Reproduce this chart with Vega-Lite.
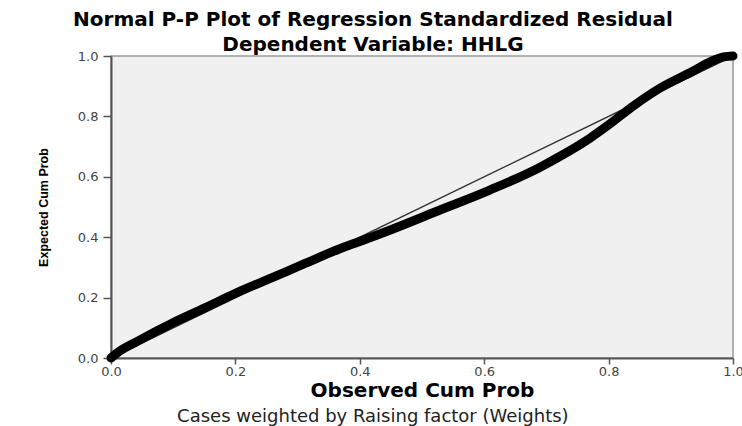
{
  "$schema": "https://vega.github.io/schema/vega-lite/v6.json",
  "width": 622,
  "height": 302,
  "autosize": "none",
  "padding": {"left": 111, "top": 56, "right": 9, "bottom": 68},
  "background": "white",
  "config": {
    "view": {"fill": "#f0f0f0", "stroke": "#9a9a9a", "strokeWidth": 1.5}
  },
  "title": {
    "text": "Normal P-P Plot of Regression Standardized Residual",
    "subtitle": "Dependent Variable: HHLG",
    "font": "DejaVu Sans",
    "fontSize": 20,
    "fontWeight": "bold",
    "color": "black",
    "subtitleFont": "DejaVu Sans",
    "subtitleFontSize": 20,
    "subtitleFontWeight": "bold",
    "subtitleColor": "black",
    "subtitlePadding": 5,
    "anchor": "middle",
    "offset": 4,
    "dx": -49,
    "dy": 21
  },
  "datasets": {
    "curve": [
      {"obs": 0.0, "exp": 0.0},
      {"obs": 0.01, "exp": 0.017},
      {"obs": 0.043, "exp": 0.056},
      {"obs": 0.098, "exp": 0.115},
      {"obs": 0.151, "exp": 0.166},
      {"obs": 0.2, "exp": 0.214},
      {"obs": 0.259, "exp": 0.266},
      {"obs": 0.312, "exp": 0.313},
      {"obs": 0.368, "exp": 0.362},
      {"obs": 0.392, "exp": 0.38},
      {"obs": 0.449, "exp": 0.424},
      {"obs": 0.529, "exp": 0.49},
      {"obs": 0.609, "exp": 0.556},
      {"obs": 0.69, "exp": 0.632},
      {"obs": 0.722, "exp": 0.668},
      {"obs": 0.77, "exp": 0.728},
      {"obs": 0.802, "exp": 0.775},
      {"obs": 0.84, "exp": 0.835},
      {"obs": 0.883, "exp": 0.894},
      {"obs": 0.936, "exp": 0.95},
      {"obs": 0.968, "exp": 0.985},
      {"obs": 0.985, "exp": 0.997},
      {"obs": 1.0, "exp": 1.0}
    ],
    "diag": [
      {"obs": 0, "exp": 0},
      {"obs": 1, "exp": 1}
    ],
    "note": [
      {"obs": 0.421, "exp": -0.197, "label": "Cases weighted by Raising factor (Weights)"}
    ]
  },
  "encoding": {
    "x": {
      "field": "obs",
      "type": "quantitative",
      "scale": {"domain": [0, 1], "nice": false, "zero": false},
      "axis": {
        "title": "Observed Cum Prob",
        "values": [0, 0.2, 0.4, 0.6, 0.8, 1],
        "format": ".1f",
        "grid": false,
        "labelFlush": false,
        "domainColor": "#555",
        "domainWidth": 2,
        "tickColor": "#555",
        "tickWidth": 1.5,
        "tickSize": 6,
        "labelPadding": 1,
        "labelFont": "DejaVu Sans",
        "labelFontSize": 13,
        "labelColor": "#444",
        "titleFont": "DejaVu Sans",
        "titleFontSize": 20,
        "titleFontWeight": "bold",
        "titleColor": "black",
        "titlePadding": 2
      }
    },
    "y": {
      "field": "exp",
      "type": "quantitative",
      "scale": {"domain": [0, 1], "nice": false, "zero": false},
      "axis": {
        "title": "Expected Cum Prob",
        "values": [0, 0.2, 0.4, 0.6, 0.8, 1],
        "format": ".1f",
        "grid": false,
        "labelFlush": false,
        "domainColor": "#555",
        "domainWidth": 2,
        "tickColor": "#555",
        "tickWidth": 1.5,
        "tickSize": 8,
        "labelPadding": 5,
        "labelFont": "DejaVu Sans",
        "labelFontSize": 13,
        "labelColor": "#444",
        "titleFont": "Liberation Sans Narrow, Liberation Sans",
        "titleFontSize": 12.5,
        "titleFontWeight": "bold",
        "titleColor": "black",
        "titlePadding": 27
      }
    }
  },
  "layer": [
    {
      "data": {"name": "diag"},
      "mark": {"type": "line", "color": "#333", "strokeWidth": 1.5}
    },
    {
      "data": {"name": "curve"},
      "mark": {"type": "line", "color": "black", "strokeWidth": 9, "interpolate": "monotone", "strokeCap": "round"}
    },
    {
      "data": {"name": "note"},
      "mark": {"type": "text", "font": "DejaVu Sans", "fontSize": 18, "color": "#222", "align": "center", "baseline": "middle"},
      "encoding": {"text": {"field": "label"}}
    }
  ]
}
